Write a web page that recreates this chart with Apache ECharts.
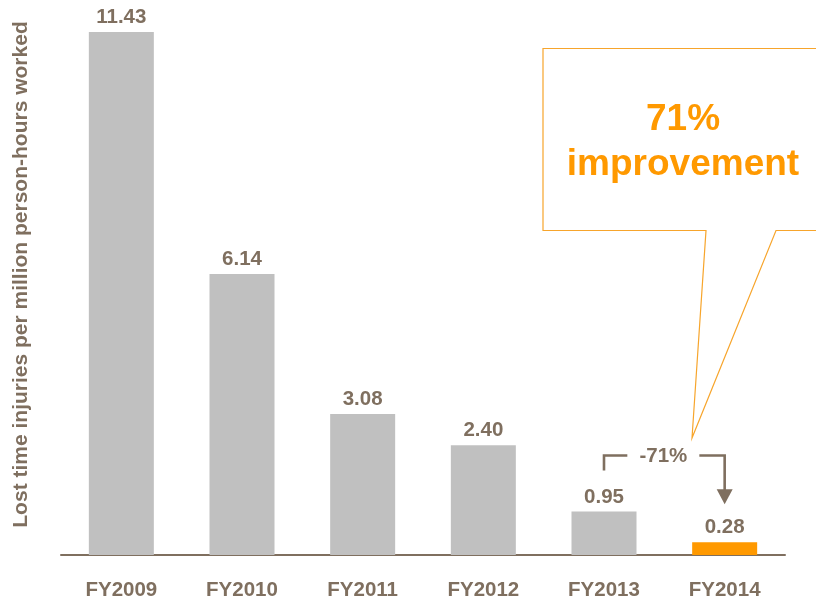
<!DOCTYPE html>
<html>
<head>
<meta charset="utf-8">
<script src="https://cdn.jsdelivr.net/npm/echarts@6/dist/echarts.min.js"></script>
<style>
  html, body { margin: 0; padding: 0; background: #ffffff; }
  #chart { width: 816px; height: 601px; }
</style>
</head>
<body>
<div id="chart"></div>
<script>
// Lost time injury frequency by fiscal year
const categories = ['FY2009', 'FY2010', 'FY2011', 'FY2012', 'FY2013', 'FY2014'];
const injuryRates = [11.43, 6.14, 3.08, 2.40, 0.95, 0.28];
const highlightIndex = 5;           // latest year, drawn in orange
const compareFromIndex = 4;         // year the change is measured from
const changeLabel = '-71%';
const calloutLines = ['71%', 'improvement'];
const axisTitle = 'Lost time injuries per million person-hours worked';

const FONT = "'Liberation Sans', Arial, Helvetica, sans-serif";
const BROWN = '#7f6f5f';
const GREY = '#c0c0c0';
const ORANGE = '#ff9900';
const CALLOUT_LINE = '#f7a52c';

const chart = echarts.init(document.getElementById('chart'), null, { renderer: 'canvas' });

chart.setOption({
  animation: false,
  backgroundColor: '#ffffff',
  grid: { left: 61, right: 31, top: 6, bottom: 45, containLabel: false },
  xAxis: {
    type: 'category',
    data: categories,
    axisLine: { show: true, lineStyle: { color: BROWN, width: 2 } },
    axisTick: { show: false },
    axisLabel: {
      margin: 25,
      color: BROWN,
      fontFamily: FONT,
      fontWeight: 'bold',
      fontSize: 20.5
    }
  },
  yAxis: {
    type: 'value',
    min: 0,
    max: 12,
    show: false,
    splitLine: { show: false }
  },
  series: [{
    type: 'bar',
    barWidth: 65,
    data: injuryRates.map((v, i) => ({
      value: v,
      itemStyle: { color: i === highlightIndex ? ORANGE : GREY }
    })),
    label: {
      show: true,
      position: 'top',
      distance: 4,
      color: BROWN,
      fontFamily: FONT,
      fontWeight: 'bold',
      fontSize: 20.5,
      formatter: p => p.value.toFixed(2)
    }
  }]
});

// Annotation positions derived from the bar geometry
const fromPt = chart.convertToPixel({ seriesIndex: 0 }, [compareFromIndex, injuryRates[compareFromIndex]]);
const toPt = chart.convertToPixel({ seriesIndex: 0 }, [highlightIndex, injuryRates[highlightIndex]]);
const x1 = fromPt[0];
const x2 = toPt[0];
const bracketTop = fromPt[1] - 56;
const bracketBottom = fromPt[1] - 41;
const midX = (x1 + x2) / 2 - 1;
const gap = 36;
const arrowTip = toPt[1] - 38;
const arrowHead = 15;

chart.setOption({
  graphic: [
    // vertical axis title
    {
      type: 'text',
      x: 21,
      y: 274.5,
      rotation: Math.PI / 2,
      style: {
        text: axisTitle,
        fill: BROWN,
        font: 'bold 21px ' + FONT,
        align: 'center',
        verticalAlign: 'middle'
      }
    },
    // bracket from FY2013 to FY2014
    {
      type: 'polyline',
      shape: { points: [[x1, bracketBottom], [x1, bracketTop], [midX - gap, bracketTop]] },
      style: { stroke: BROWN, lineWidth: 2.6, fill: null }
    },
    {
      type: 'polyline',
      shape: { points: [[midX + gap, bracketTop], [x2, bracketTop], [x2, arrowTip - arrowHead + 1]] },
      style: { stroke: BROWN, lineWidth: 2.6, fill: null }
    },
    {
      type: 'polygon',
      shape: { points: [[x2 - 8, arrowTip - arrowHead], [x2 + 8, arrowTip - arrowHead], [x2, arrowTip]] },
      style: { fill: BROWN, stroke: null }
    },
    {
      type: 'text',
      x: midX,
      y: bracketTop + 1,
      style: {
        text: changeLabel,
        fill: BROWN,
        font: 'bold 20.5px ' + FONT,
        align: 'center',
        verticalAlign: 'middle'
      }
    },
    // speech-bubble callout
    {
      type: 'polygon',
      shape: {
        points: [
          [543, 48.5], [830, 48.5], [830, 230.5], [776, 230.5],
          [692, 438], [706, 230.5], [543, 230.5]
        ]
      },
      style: { stroke: CALLOUT_LINE, lineWidth: 1.2, fill: 'rgba(255,255,255,0)' }
    },
    {
      type: 'text',
      x: 683,
      y: 120,
      style: {
        text: calloutLines[0],
        fill: ORANGE,
        font: 'bold 37px ' + FONT,
        align: 'center',
        verticalAlign: 'middle'
      }
    },
    {
      type: 'text',
      x: 683,
      y: 165,
      style: {
        text: calloutLines[1],
        fill: ORANGE,
        font: 'bold 37px ' + FONT,
        align: 'center',
        verticalAlign: 'middle'
      }
    }
  ]
});
</script>
</body>
</html>
